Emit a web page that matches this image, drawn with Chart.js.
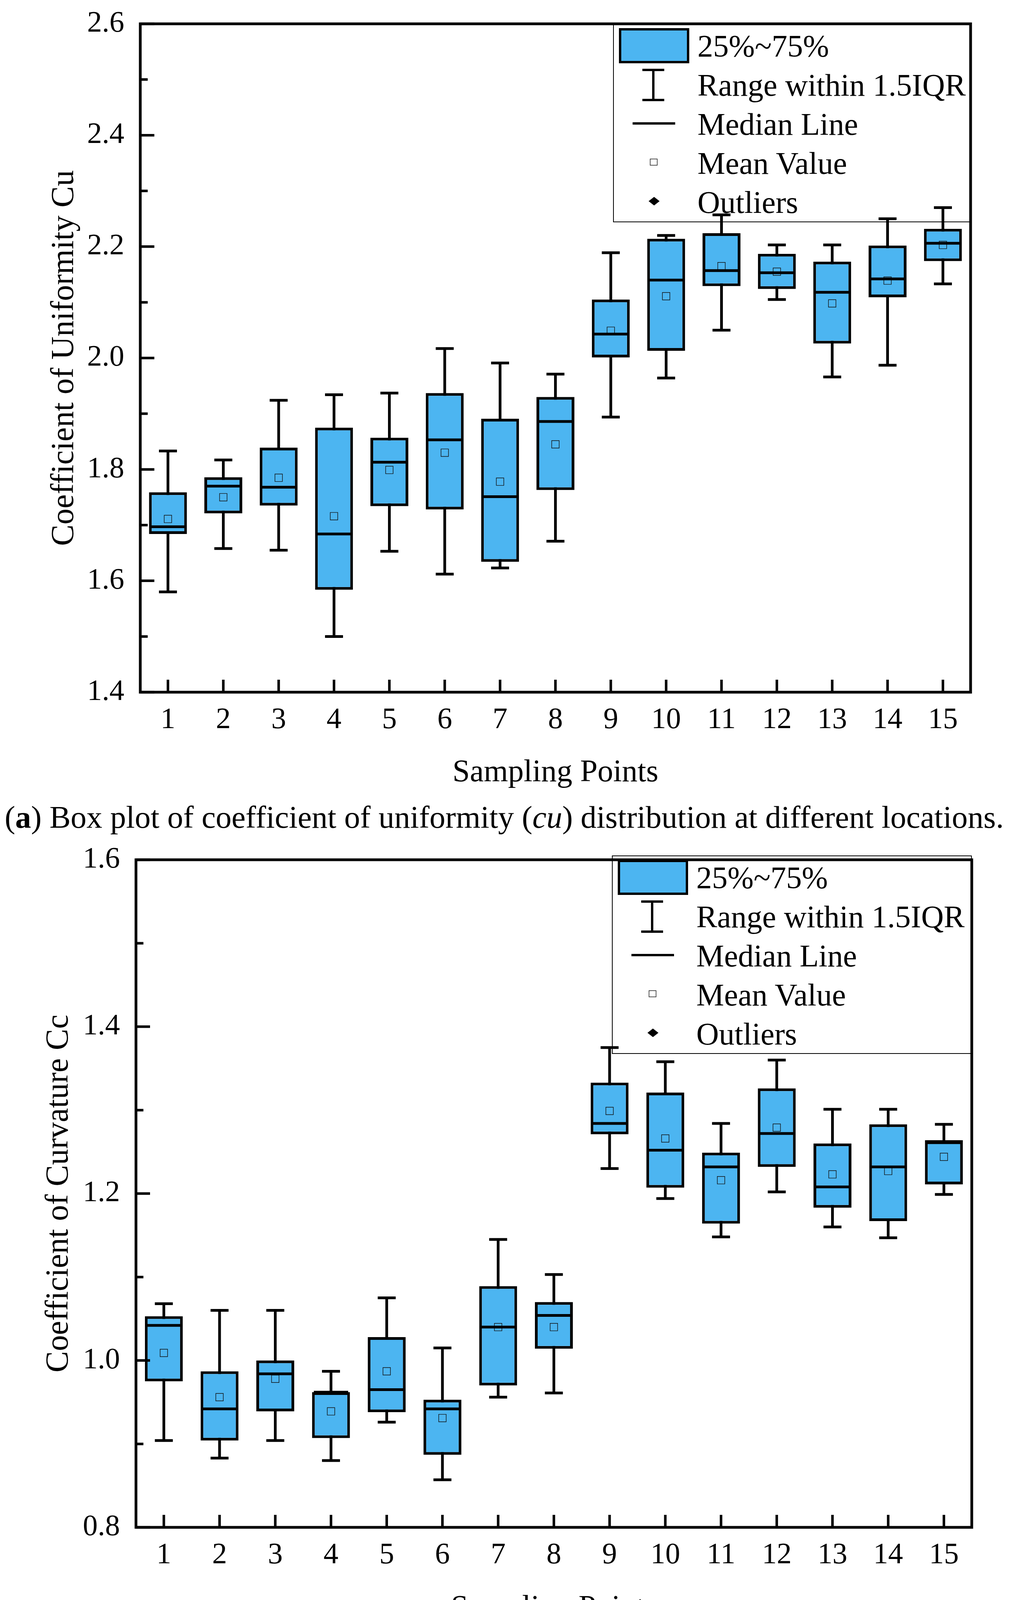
<!DOCTYPE html>
<html>
<head>
<meta charset="utf-8">
<script src="https://cdn.jsdelivr.net/npm/chart.js@4.4.1/dist/chart.umd.min.js"></script>
<style>
  html, body { margin: 0; padding: 0; background: #fff; }
  body { width: 2613px; height: 4304px; position: relative; overflow: hidden; font-family: 'Liberation Serif', 'Times New Roman', serif; color: #000; }
  canvas { position: absolute; left: 0; }
  .cap { position: absolute; left: 12px; white-space: nowrap; font-size: 81px; }
  .legend { position: absolute; border: 2px solid #000; box-sizing: border-box; }
  .legend svg { position: absolute; left: 0; top: 0; }
  .legend .txt { position: absolute; left: 214px; font-size: 80px; line-height: 100px; height: 100px; white-space: nowrap; }
</style>
</head>
<body>
<canvas id="cuChart" width="2613" height="2040" style="top:0"></canvas>
<div class="cap" style="top:2040px; line-height:104px;">(<b>a</b>) Box plot of coefficient of uniformity (<i>cu</i>) distribution at different locations.</div>
<canvas id="ccChart" width="2613" height="2030" style="top:2150px"></canvas>
<div class="cap" style="top:4180px; line-height:94px;">(<b>b</b>) Box plot of coefficient of curvature (<i>cc</i>) distribution at different locations.</div>

<script>
// sampling points
const points = ['1', '2', '3', '4', '5', '6', '7', '8', '9', '10', '11', '12', '13', '14', '15'];

// coefficient of uniformity Cu
const cuMin  = [1.580, 1.658, 1.655, 1.500, 1.653, 1.612, 1.623, 1.671, 1.894, 1.964, 2.050, 2.105, 1.966, 1.987, 2.133];
const cuQ1   = [1.684, 1.721, 1.735, 1.584, 1.734, 1.728, 1.634, 1.763, 2.001, 2.013, 2.129, 2.124, 2.026, 2.109, 2.174];
const cuMed  = [1.697, 1.770, 1.768, 1.684, 1.813, 1.853, 1.751, 1.886, 2.043, 2.140, 2.157, 2.153, 2.118, 2.142, 2.206];
const cuQ3   = [1.759, 1.786, 1.839, 1.875, 1.857, 1.937, 1.891, 1.930, 2.105, 2.214, 2.224, 2.187, 2.173, 2.202, 2.232];
const cuMax  = [1.833, 1.817, 1.924, 1.934, 1.937, 2.017, 1.991, 1.971, 2.189, 2.220, 2.257, 2.203, 2.203, 2.250, 2.270];
const cuMean = [1.711, 1.750, 1.785, 1.716, 1.799, 1.830, 1.778, 1.845, 2.049, 2.111, 2.165, 2.155, 2.098, 2.139, 2.203];
const cuTicks = [1.4, 1.6, 1.8, 2.0, 2.2, 2.4, 2.6];

// coefficient of curvature Cc
const ccMin  = [0.904, 0.883, 0.904, 0.880, 0.926, 0.857, 0.956, 0.961, 1.230, 1.194, 1.148, 1.202, 1.160, 1.147, 1.199];
const ccQ1   = [0.975, 0.904, 0.939, 0.907, 0.938, 0.887, 0.970, 1.014, 1.271, 1.207, 1.164, 1.232, 1.183, 1.167, 1.211];
const ccMed  = [1.042, 0.942, 0.984, 0.962, 0.965, 0.942, 1.040, 1.054, 1.284, 1.252, 1.232, 1.272, 1.208, 1.232, 1.261];
const ccQ3   = [1.053, 0.987, 1.000, 0.962, 1.028, 0.953, 1.089, 1.070, 1.333, 1.321, 1.249, 1.326, 1.260, 1.283, 1.264];
const ccMax  = [1.068, 1.060, 1.060, 0.987, 1.075, 1.015, 1.145, 1.103, 1.375, 1.358, 1.284, 1.360, 1.301, 1.301, 1.283];
const ccMean = [1.009, 0.956, 0.978, 0.939, 0.987, 0.931, 1.040, 1.040, 1.299, 1.266, 1.216, 1.279, 1.223, 1.227, 1.244];
const ccTicks = [0.8, 1.0, 1.2, 1.4, 1.6];

const legendItems = ['25%~75%', 'Range within 1.5IQR', 'Median Line', 'Mean Value', 'Outliers'];

const BOX_BLUE = '#4cb5f1';
const FONT = "'Liberation Serif', 'Times New Roman', serif";

// frame + inward tick marks (Origin style)
const framePlugin = {
  id: 'frame',
  afterDraw(chart) {
    const { ctx, chartArea: a, scales: { x, y } } = chart;
    ctx.save();
    ctx.strokeStyle = '#000';
    ctx.lineWidth = 7;
    ctx.lineCap = 'butt';
    ctx.strokeRect(a.left, a.top, a.right - a.left, a.bottom - a.top);
    const ticks = chart.options.plugins.frame.ticks;
    ctx.lineWidth = 6.5;
    ctx.beginPath();
    ticks.forEach((v, i) => {
      const py = y.getPixelForValue(v);
      ctx.moveTo(a.left, py);
      ctx.lineTo(a.left + 36, py);
      if (i < ticks.length - 1) {
        const pm = y.getPixelForValue((v + ticks[i + 1]) / 2);
        ctx.moveTo(a.left, pm);
        ctx.lineTo(a.left + 19, pm);
      }
    });
    points.forEach((p, i) => {
      const px = x.getPixelForValue(i);
      ctx.moveTo(px, a.bottom);
      ctx.lineTo(px, a.bottom - 32);
    });
    ctx.stroke();
    ctx.restore();
  }
};

function makeBoxChart(id, mins, q1, med, q3, maxs, means, yTicks, yTitle, box) {
  const catW = (box.right - box.left) / points.length;
  return new Chart(document.getElementById(id), {
    data: {
      labels: points,
      datasets: [
        {
          type: 'line', data: med, showLine: false, pointStyle: 'line',
          pointRadius: 44, pointBorderWidth: 7, pointBorderColor: '#000', order: 0
        },
        {
          type: 'line', data: means, showLine: false, pointStyle: 'rect',
          pointRadius: 13.5, pointBorderWidth: 1.4, pointBorderColor: '#111',
          pointBackgroundColor: 'rgba(0,0,0,0)', order: 0
        },
        {
          type: 'line', data: mins, showLine: false, pointStyle: 'line',
          pointRadius: 23, pointBorderWidth: 7, pointBorderColor: '#000', order: 1
        },
        {
          type: 'line', data: maxs, showLine: false, pointStyle: 'line',
          pointRadius: 23, pointBorderWidth: 7, pointBorderColor: '#000', order: 1
        },
        {
          type: 'bar', data: q1.map((v, i) => [v, q3[i]]),
          backgroundColor: BOX_BLUE, borderColor: '#000', borderWidth: 7, borderSkipped: false,
          barPercentage: 97 / catW, categoryPercentage: 1, grouped: false, order: 2
        },
        {
          type: 'bar', data: mins.map((v, i) => [v, maxs[i]]),
          backgroundColor: '#000', borderWidth: 0,
          barPercentage: 7 / catW, categoryPercentage: 1, grouped: false, order: 3
        }
      ]
    },
    options: {
      responsive: false,
      animation: false,
      devicePixelRatio: 1,
      layout: { padding: { top: box.top, right: 2613 - box.right, left: 0, bottom: 0 } },
      plugins: {
        legend: { display: false },
        tooltip: { enabled: false },
        frame: { ticks: yTicks }
      },
      scales: {
        x: {
          type: 'category',
          offset: true,
          grid: { display: false, drawTicks: false },
          border: { display: false },
          ticks: { color: '#000', font: { family: FONT, size: 76 }, padding: 26, maxRotation: 0, autoSkip: false },
          title: { display: true, text: 'Sampling Points', color: '#000', font: { family: FONT, size: 80 }, padding: { top: 0, bottom: box.xTitlePad } },
          afterFit: s => { s.height = box.canvasH - box.bottom; s.paddingLeft = 0; s.paddingRight = 0; }
        },
        y: {
          min: yTicks[0],
          max: yTicks[yTicks.length - 1],
          grid: { display: false, drawTicks: false },
          border: { display: false },
          afterBuildTicks: s => { s.ticks = yTicks.map(v => ({ value: v })); },
          ticks: { color: '#000', font: { family: FONT, size: 76 }, padding: 41, callback: v => v.toFixed(1) },
          title: { display: true, text: yTitle, color: '#000', font: { family: FONT, size: 82 }, padding: { top: box.yTitlePad, bottom: 0 } },
          afterFit: s => { s.width = box.left; s.paddingTop = 0; s.paddingBottom = 0; }
        }
      }
    },
    plugins: [framePlugin]
  });
}

makeBoxChart('cuChart', cuMin, cuQ1, cuMed, cuQ3, cuMax, cuMean, cuTicks, 'Coefficient of Uniformity Cu',
  { left: 359, right: 2484, top: 61, bottom: 1772, canvasH: 2040, xTitlePad: 13, yTitlePad: 116 });
makeBoxChart('ccChart', ccMin, ccQ1, ccMed, ccQ3, ccMax, ccMean, ccTicks, 'Coefficient of Curvature Cc',
  { left: 348, right: 2487, top: 40, bottom: 1760, canvasH: 2030, xTitlePad: 14, yTitlePad: 102 });

// legend boxes (inside the plot, top right)
function addLegend(left, top, right) {
  const div = document.createElement('div');
  div.className = 'legend';
  div.style.left = left + 'px';
  div.style.top = top + 'px';
  div.style.width = (right - left) + 'px';
  div.style.height = '508px';
  div.innerHTML =
    '<svg width="300" height="508">' +
    '<rect x="16" y="12" width="174" height="84" fill="' + BOX_BLUE + '" stroke="#000" stroke-width="6"/>' +
    '<path d="M73 116 H129 M101 116 V193 M73 193 H129" stroke="#000" stroke-width="6" fill="none"/>' +
    '<path d="M48 253 H157" stroke="#000" stroke-width="6"/>' +
    '<rect x="93" y="344" width="18" height="16" fill="none" stroke="#111" stroke-width="1.4"/>' +
    '<path d="M103 441 L117 452 L103 463 L89 452 Z" fill="#000"/>' +
    '</svg>';
  legendItems.forEach((t, i) => {
    const s = document.createElement('div');
    s.className = 'txt';
    s.style.top = (55 + 100 * i - 50) + 'px';
    s.textContent = t;
    div.appendChild(s);
  });
  document.body.appendChild(div);
}
addLegend(1569, 61, 2484);
addLegend(1566, 2190, 2487);
</script>
</body>
</html>
